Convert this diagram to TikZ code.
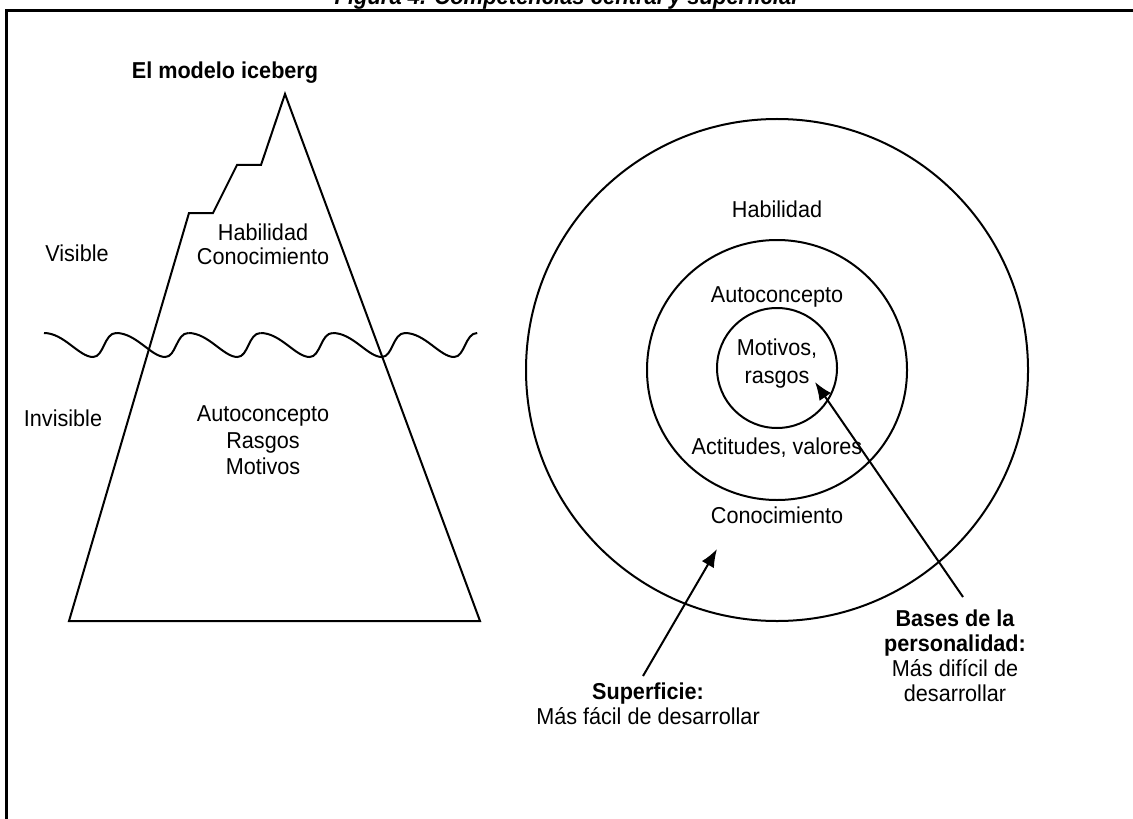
\documentclass[tikz,border=0pt]{standalone}
\usepackage{fontspec}
\setmainfont[FakeStretch=0.94]{Liberation Sans}
\usetikzlibrary{arrows.meta}

\begin{document}
\begin{tikzpicture}[x=0.5pt,y=-0.5pt,line width=1pt,
    every node/.style={inner sep=0pt,anchor=base,font=\fontsize{11.5}{13}\selectfont},
    ring/.style={draw=black,circle,anchor=center},
    arr/.style={-{Latex[length=9pt,width=7pt]}},]
  \useasboundingbox (0,0) rectangle (1133,818);
  \clip (0,0) rectangle (1133,818);
  % frame and title
  \node[font=\fontsize{11.7}{13}\selectfont\bfseries\itshape] (ttl) at (566,5) {Figura 4. Competencias central y superficial};
  \draw[line width=1.5pt] (1140,11) -- (6,11) -- (6,830);
  % iceberg
  \node[font=\fontsize{11.5}{13}\selectfont\bfseries] (ice) at (225,79) {El modelo iceberg};
  \draw (69,621) -- (189,213) -- (213,213) -- (237,165) -- (261,165) -- (285,94) -- (480,621) -- cycle;
  \foreach \i in {0,...,5} {
    \pgfmathsetmacro{\c}{44+72.2*\i}
    \draw (\c,333) .. controls (\c+20,333) and (\c+35,357) .. (\c+49,357)
      .. controls (\c+60,357) and (\c+60,333) .. (\c+72.2,333);
  }
  \node (vis) at (77,261) {Visible};
  \node (hab1) at (263,240) {Habilidad};
  \node (con1) at (263,264) {Conocimiento};
  \node (invis) at (63,426) {Invisible};
  \node (auto1) at (263,421) {Autoconcepto};
  \node (ras1) at (263,448) {Rasgos};
  \node (mot1) at (263,474) {Motivos};
  % circles
  \node[ring,minimum size=251pt] (outer) at (777,370) {};
  \node[ring,minimum size=130pt] (middle) at (777,370) {};
  \node[ring,minimum size=60pt] (inner) at (777,368) {};
  \node (hab2) at (777,218) {Habilidad};
  \node (auto2) at (777,302) {Autoconcepto};
  \node (mot2) at (777,355) {Motivos,};
  \node (ras2) at (777,383) {rasgos};
  \node (act) at (777,454) {Actitudes, valores};
  \node (con2) at (777,523) {Conocimiento};
  % labels and arrows
  \node[font=\fontsize{11.5}{13}\selectfont\bfseries] (sup) at (648,699) {Superficie:};
  \node (sup2) at (648,724) {Más fácil de desarrollar};
  \node[font=\fontsize{11.5}{13}\selectfont\bfseries] (bas) at (955,626) {Bases de la};
  \node[font=\fontsize{11.5}{13}\selectfont\bfseries] (bas2) at (955,651) {personalidad:};
  \node (bas3) at (955,676) {Más difícil de};
  \node (bas4) at (955,701) {desarrollar};
  \coordinate (suptail) at (643,676);
  \coordinate (suptip) at (717,549);
  \coordinate (bastail) at (963,597);
  \coordinate (bastip) at (815,382);
  \draw[arr] (suptail) -- (suptip);
  \draw[arr] (bastail) -- (bastip);
\end{tikzpicture}
\end{document}
